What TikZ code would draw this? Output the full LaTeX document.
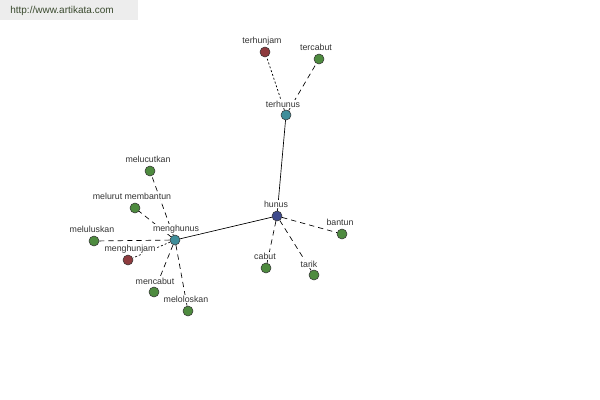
\documentclass[tikz,border=0pt]{standalone}
\usepackage{fontspec}
\setmainfont{Liberation Sans}
\begin{document}
\begin{tikzpicture}[x=0.75pt,y=-0.75pt]
\definecolor{gn}{HTML}{4E8B3F}
\definecolor{rd}{HTML}{8E3B3E}
\definecolor{tl}{HTML}{3F8E9A}
\definecolor{bl}{HTML}{3E4A8C}
\definecolor{wmtext}{HTML}{3A4A2E}
\tikzset{
  dot/.style={circle,draw=black!80,line width=0.4pt,minimum size=7.5pt,inner sep=0pt},
  gn/.style={dot,fill=gn},rd/.style={dot,fill=rd},tl/.style={dot,fill=tl},bl/.style={dot,fill=bl},
  lbl/.style={font=\fontsize{6.6pt}{7pt}\selectfont,text=black!80,fill=white,inner sep=0.4pt},
  sol/.style={line width=0.5pt},
  dsh/.style={line width=0.5pt,dash pattern=on 4pt off 3pt},
  dtt/.style={line width=0.5pt,dash pattern=on 1.5pt off 1.5pt}}
\useasboundingbox[fill=white] (0,0) rectangle (600,400);
\fill[black!7] (0,0) rectangle (138,20);
\node[font=\fontsize{7.5pt}{9pt}\selectfont,text=wmtext,inner sep=0pt] (wm) at (62,11) {http://www.artikata.com};
% nodes
\node[bl] (hunus) at (277,216) {};
\node[tl] (terhunus) at (286,115) {};
\node[rd] (terhunjam) at (265,52) {};
\node[gn] (tercabut) at (319,59) {};
\node[tl] (menghunus) at (175,240) {};
\node[gn] (melucutkan) at (150,171) {};
\node[gn] (melurut) at (135,208) {};
\node[gn] (meluluskan) at (94,241) {};
\node[rd] (menghunjam) at (128,260) {};
\node[gn] (mencabut) at (154,292) {};
\node[gn] (meloloskan) at (188,311) {};
\node[gn] (cabut) at (266,268) {};
\node[gn] (tarik) at (314,275) {};
\node[gn] (bantun) at (342,234) {};
% edges
\draw[sol] (hunus) -- (terhunus);
\draw[sol] (hunus) -- (menghunus);
\draw[dsh] (hunus) -- (cabut);
\draw[dsh] (hunus) -- (tarik);
\draw[dsh] (hunus) -- (bantun);
\draw[dtt] (terhunus) -- (terhunjam);
\draw[dsh] (terhunus) -- (tercabut);
\draw[dsh] (menghunus) -- (melucutkan);
\draw[dsh] (menghunus) -- (melurut);
\draw[dsh] (menghunus) -- (meluluskan);
\draw[dtt] (menghunus) -- (menghunjam);
\draw[dsh] (menghunus) -- (mencabut);
\draw[dsh] (menghunus) -- (meloloskan);
% labels
\node[lbl] (l1) at (276,204) {hunus};
\node[lbl] (l2) at (283,104) {terhunus};
\node[lbl] (l3) at (262,41) {terhunjam};
\node[lbl] (l4) at (316,47) {tercabut};
\node[lbl] (l5) at (176,229) {menghunus};
\node[lbl] (l6) at (148,159) {melucutkan};
\node[lbl] (l7) at (132,196) {melurut membantun};
\node[lbl] (l8) at (92,229) {meluluskan};
\node[lbl] (l9) at (130,249) {menghunjam};
\node[lbl] (l10) at (155,281) {mencabut};
\node[lbl] (l11) at (186,299) {meloloskan};
\node[lbl] (l12) at (265,256) {cabut};
\node[lbl] (l13) at (309,264) {tarik};
\node[lbl] (l14) at (340,222) {bantun};
\end{tikzpicture}
\end{document}
